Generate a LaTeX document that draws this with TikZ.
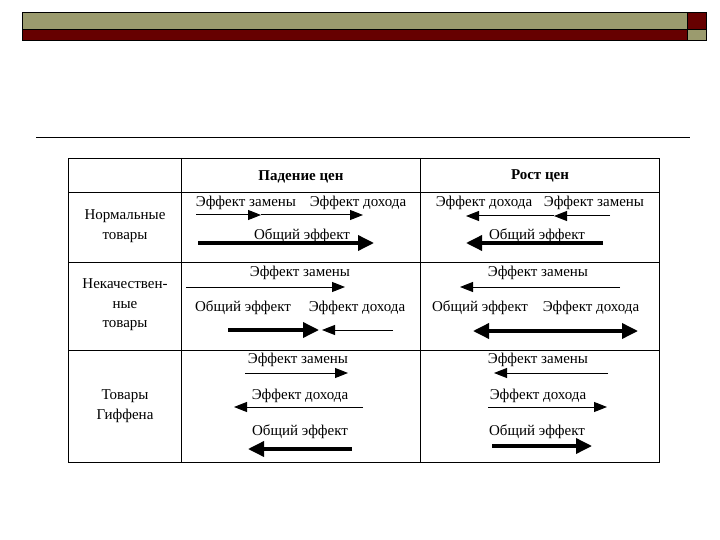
\documentclass[tikz,border=0pt]{standalone}
\usepackage{fontspec}
\setmainfont{Liberation Serif}
\usetikzlibrary{arrows.meta}
\definecolor{barolive}{HTML}{9B9B6E}
\definecolor{barred}{HTML}{660000}

\begin{document}
\begin{tikzpicture}[x=1pt, y=-1pt,
	lbl/.style={font=\fontsize{15}{19.5}\selectfont, inner sep=0pt, align=center, anchor=base},
	side/.style={lbl, anchor=center},
	hdr/.style={lbl, font=\fontsize{15}{19}\selectfont\bfseries},
	eff/.style={line width=1pt, -{Triangle[length=13pt, width=10pt]}},
	tot/.style={line width=3.5pt, -{Triangle[length=16pt, width=15pt]}}]
	\useasboundingbox (0, 0) rectangle (720, 540);

	% Полоса сверху
	\filldraw [fill=barolive, draw=black, line width=0.6pt] (22, 12) rectangle (687, 29.5);
	\filldraw [fill=barred, draw=black, line width=0.6pt] (22, 29.5) rectangle (687, 40.5);
	\filldraw [fill=barred, draw=black, line width=0.6pt] (687, 12) rectangle (706, 29.5);
	\filldraw [fill=barolive, draw=black, line width=0.6pt] (687, 29.5) rectangle (706, 40.5);
	\draw [line width=0.7pt] (36, 137) -- (690, 137);

	% Таблица
	\draw [line width=0.9pt] (68, 158) rectangle (659, 462);
	\draw [line width=0.9pt] (181, 158) -- (181, 462);
	\draw [line width=0.9pt] (420, 158) -- (420, 462);
	\draw [line width=0.9pt] (68, 192) -- (659, 192);
	\draw [line width=0.9pt] (68, 262) -- (659, 262);
	\draw [line width=0.9pt] (68, 350) -- (659, 350);

	\node [hdr] (hfall) at (301, 181) {Падение цен};
	\node [hdr] (hrise) at (540, 180) {Рост цен};

	\node [side] (norm) at (125, 226) {Нормальные\\товары};
	\node [side] (infer) at (125, 305) {Некачествен-\\ные\\товары};
	\node [side] (giff) at (125, 406) {Товары\\Гиффена};

	% Нормальные товары
	\node [lbl] (sub1l) at (246, 207) {Эффект замены};
	\node [lbl] (inc1l) at (358, 207) {Эффект дохода};
	\coordinate (a0) at (196, 215);
	\coordinate (a1) at (261, 215);
	\coordinate (a2) at (363, 215);
	\draw [eff] (a0) -- (a1);
	\draw [eff] (a1) -- (a2);
	\node [lbl] (tot1l) at (302, 240) {Общий эффект};
	\coordinate (b0) at (198, 243);
	\coordinate (b1) at (374, 243);
	\draw [tot] (b0) -- (b1);

	\node [lbl] (inc1r) at (484, 207) {Эффект дохода};
	\node [lbl] (sub1r) at (594, 207) {Эффект замены};
	\coordinate (c0) at (610, 216);
	\coordinate (c1) at (554, 216);
	\coordinate (c2) at (466, 216);
	\draw [eff] (c0) -- (c1);
	\draw [eff] (c1) -- (c2);
	\node [lbl] (tot1r) at (537, 240) {Общий эффект};
	\coordinate (d0) at (603, 243);
	\coordinate (d1) at (466, 243);
	\draw [tot] (d0) -- (d1);

	% Некачественные товары
	\node [lbl] (sub2l) at (300, 276) {Эффект замены};
	\coordinate (e0) at (186, 287);
	\coordinate (e1) at (345, 287);
	\draw [eff] (e0) -- (e1);
	\node [lbl] (tot2l) at (243, 311) {Общий эффект};
	\node [lbl] (inc2l) at (357, 311) {Эффект дохода};
	\coordinate (f0) at (228, 330);
	\coordinate (f1) at (319, 330);
	\coordinate (f2) at (393, 330);
	\coordinate (f3) at (322, 330);
	\draw [tot] (f0) -- (f1);
	\draw [eff] (f2) -- (f3);

	\node [lbl] (sub2r) at (538, 276) {Эффект замены};
	\coordinate (g0) at (620, 287);
	\coordinate (g1) at (460, 287);
	\draw [eff] (g0) -- (g1);
	\node [lbl] (tot2r) at (480, 311) {Общий эффект};
	\node [lbl] (inc2r) at (591, 311) {Эффект дохода};
	\coordinate (h0) at (473, 331);
	\coordinate (h1) at (638, 331);
	\draw [tot, {Triangle[length=16pt, width=15pt]}-{Triangle[length=16pt, width=15pt]}] (h0) -- (h1);

	% Товары Гиффена
	\node [lbl] (sub3l) at (298, 363) {Эффект замены};
	\coordinate (i0) at (245, 373);
	\coordinate (i1) at (348, 373);
	\draw [eff] (i0) -- (i1);
	\node [lbl] (inc3l) at (300, 399) {Эффект дохода};
	\coordinate (j0) at (363, 407);
	\coordinate (j1) at (234, 407);
	\draw [eff] (j0) -- (j1);
	\node [lbl] (tot3l) at (300, 435) {Общий эффект};
	\coordinate (k0) at (352, 449);
	\coordinate (k1) at (248, 449);
	\draw [tot] (k0) -- (k1);

	\node [lbl] (sub3r) at (538, 363) {Эффект замены};
	\coordinate (l0) at (608, 373);
	\coordinate (l1) at (494, 373);
	\draw [eff] (l0) -- (l1);
	\node [lbl] (inc3r) at (538, 399) {Эффект дохода};
	\coordinate (m0) at (488, 407);
	\coordinate (m1) at (607, 407);
	\draw [eff] (m0) -- (m1);
	\node [lbl] (tot3r) at (537, 435) {Общий эффект};
	\coordinate (n0) at (492, 446);
	\coordinate (n1) at (592, 446);
	\draw [tot] (n0) -- (n1);
\end{tikzpicture}
\end{document}
